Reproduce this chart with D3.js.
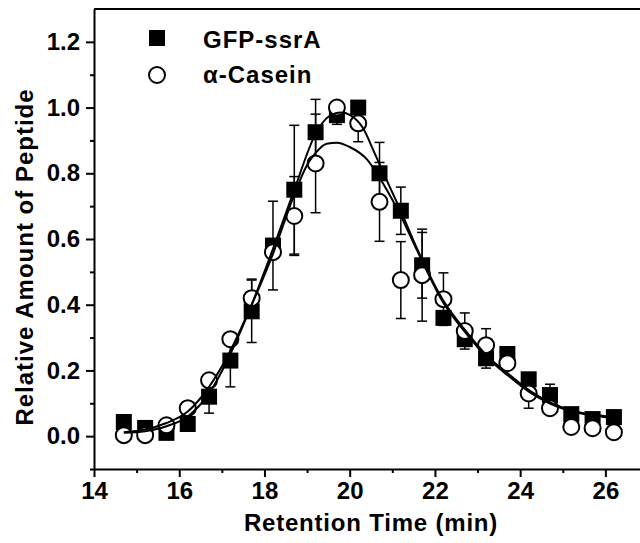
<!DOCTYPE html>
<html>
<head>
<meta charset="utf-8">
<script src="https://cdn.jsdelivr.net/npm/d3@7"></script>
<style>
  body { margin: 0; background: #fff; }
  text { font-family: "Liberation Sans", Arial, sans-serif; font-weight: bold; fill: #000; }
</style>
</head>
<body>
<div id="chart"></div>
<script>
// retention times of the fractions
var times = [14.7, 15.2, 15.7, 16.2, 16.7, 17.2, 17.7, 18.2, 18.7, 19.2, 19.7, 20.2,
             20.7, 21.2, 21.7, 22.2, 22.7, 23.2, 23.7, 24.2, 24.7, 25.2, 25.7, 26.2];

// GFP-ssrA (filled squares)
var gfpValues = [0.043, 0.025, 0.01, 0.037, 0.12, 0.23, 0.38, 0.58, 0.75, 0.925, 0.977, 1.0,
                 0.80, 0.686, 0.52, 0.36, 0.295, 0.237, 0.25, 0.173, 0.125, 0.067, 0.052, 0.058];
var gfpErrors = [0, 0, 0, 0, 0.05, 0.08, 0.095, 0.135, 0.196, 0.1, 0.028, 0,
                 0.094, 0.072, 0.1, 0, 0, 0.03, 0, 0, 0.033, 0, 0, 0];

// alpha-casein (open circles)
var caseinValues = [0.003, 0.003, 0.033, 0.085, 0.17, 0.295, 0.42, 0.56, 0.67, 0.83, 1.0, 0.952,
                    0.713, 0.475, 0.49, 0.417, 0.32, 0.277, 0.222, 0.13, 0.085, 0.028, 0.024, 0.012];
var caseinErrors = [0, 0, 0, 0, 0, 0, 0.058, 0, 0.12, 0.15, 0, 0.056,
                    0.12, 0.117, 0.14, 0.08, 0.055, 0.05, 0, 0.045, 0, 0, 0, 0];

// fitted curves
var gfpFitT = [14.7, 15.2, 15.7, 16.2, 16.7, 17.2, 17.7, 18.2, 18.7, 19.2, 19.5, 19.8, 20.0, 20.3,
               20.6, 20.9, 21.2, 21.6, 22.2, 22.75, 23.22, 23.69, 24.23, 24.7, 25.25, 25.88, 26.35];
var gfpFitV = [0.01, 0.015, 0.03, 0.06, 0.13, 0.25, 0.40, 0.57, 0.75, 0.92, 0.972, 0.985, 0.978, 0.94,
               0.857, 0.77, 0.685, 0.565, 0.412, 0.316, 0.245, 0.193, 0.138, 0.103, 0.077, 0.063, 0.057];
var caseinFitT = [14.7, 15.2, 15.7, 16.2, 16.7, 17.2, 17.7, 18.2, 18.7, 19.0, 19.2, 19.46, 19.7,
                  20.0, 20.4, 20.8, 21.2, 21.6, 22.2, 22.75, 23.22, 23.69, 24.23, 24.7, 25.25, 25.88, 26.35];
var caseinFitV = [0.012, 0.02, 0.04, 0.075, 0.15, 0.26, 0.40, 0.555, 0.735, 0.825, 0.862, 0.89, 0.893,
                  0.88, 0.843, 0.765, 0.67, 0.56, 0.405, 0.31, 0.24, 0.187, 0.133, 0.099, 0.074, 0.06, 0.054];

var xTicks = [14, 16, 18, 20, 22, 24, 26];
var xMinorTicks = [15, 17, 19, 21, 23, 25];
var yTicks = [0.0, 0.2, 0.4, 0.6, 0.8, 1.0, 1.2];
var yMinorTicks = [-0.1, 0.1, 0.3, 0.5, 0.7, 0.9, 1.1];

var width = 640, height = 543;
var plotLeft = 94, plotTop = 9, plotBottom = 469, plotRight = 648;

var svg = d3.select("#chart").append("svg")
    .attr("width", width)
    .attr("height", height);

var x = d3.scaleLinear().domain([14, 27]).range([plotLeft, plotRight]);
var y = d3.scaleLinear().domain([-0.1, 1.3]).range([plotBottom, plotTop]);

// frame top line
svg.append("line")
    .attr("x1", plotLeft).attr("x2", width)
    .attr("y1", plotTop).attr("y2", plotTop)
    .attr("stroke", "#000").attr("stroke-width", 2);

// axes
svg.append("g").attr("transform", "translate(0," + plotBottom + ")")
    .call(d3.axisBottom(x).tickValues(xTicks).tickSize(8).tickSizeOuter(0).tickPadding(5)
        .tickFormat(d3.format("d")));
svg.append("g").attr("transform", "translate(0," + plotBottom + ")")
    .call(d3.axisBottom(x).tickValues(xMinorTicks).tickSize(4).tickFormat(""))
    .select(".domain").remove();

svg.append("g").attr("transform", "translate(" + plotLeft + ",0)")
    .call(d3.axisLeft(y).tickValues(yTicks).tickSize(8).tickSizeOuter(0).tickPadding(6)
        .tickFormat(d3.format(".1f")));
svg.append("g").attr("transform", "translate(" + plotLeft + ",0)")
    .call(d3.axisLeft(y).tickValues(yMinorTicks).tickSize(4).tickFormat(""))
    .select(".domain").remove();

svg.selectAll(".domain").attr("stroke-width", 2);
svg.selectAll(".tick line").attr("stroke-width", 2);
svg.selectAll(".tick text").style("font-size", "24px").attr("fill", "#000");

// axis titles
svg.append("text")
    .attr("x", 371).attr("y", 531)
    .attr("text-anchor", "middle")
    .style("font-size", "24px")
    .style("letter-spacing", "0.8px")
    .text("Retention Time (min)");

svg.append("text")
    .attr("transform", "translate(33,257) rotate(-90)")
    .attr("text-anchor", "middle")
    .style("font-size", "24px")
    .style("letter-spacing", "1px")
    .text("Relative Amount of Peptide");

// error bars
function errorBars(values, errors) {
    var data = times.map(function (t, i) { return { t: t, v: values[i], e: errors[i] }; })
        .filter(function (d) { return d.e > 0; });
    var g = svg.append("g").attr("stroke", "#000").attr("stroke-width", 1.5);
    data.forEach(function (d) {
        var cx = x(d.t), y1 = y(d.v - d.e), y2 = y(d.v + d.e);
        g.append("line").attr("x1", cx).attr("x2", cx).attr("y1", y1).attr("y2", y2);
        g.append("line").attr("x1", cx - 5).attr("x2", cx + 5).attr("y1", y1).attr("y2", y1);
        g.append("line").attr("x1", cx - 5).attr("x2", cx + 5).attr("y1", y2).attr("y2", y2);
    });
}
errorBars(gfpValues, gfpErrors);
errorBars(caseinValues, caseinErrors);

// markers
svg.append("g").selectAll("rect")
    .data(times)
    .enter().append("rect")
    .attr("x", function (d) { return x(d) - 8; })
    .attr("y", function (d, i) { return y(gfpValues[i]) - 8; })
    .attr("width", 16).attr("height", 16)
    .attr("fill", "#000");

svg.append("g").selectAll("circle")
    .data(times)
    .enter().append("circle")
    .attr("cx", function (d) { return x(d); })
    .attr("cy", function (d, i) { return y(caseinValues[i]); })
    .attr("r", 8)
    .attr("fill", "#fff")
    .attr("stroke", "#000")
    .attr("stroke-width", 2);

// fitted curves
var line = d3.line()
    .x(function (d) { return x(d[0]); })
    .y(function (d) { return y(d[1]); })
    .curve(d3.curveMonotoneX);

svg.append("path")
    .datum(d3.zip(gfpFitT, gfpFitV))
    .attr("d", line)
    .attr("fill", "none").attr("stroke", "#000").attr("stroke-width", 2);
svg.append("path")
    .datum(d3.zip(caseinFitT, caseinFitV))
    .attr("d", line)
    .attr("fill", "none").attr("stroke", "#000").attr("stroke-width", 2);

// legend
svg.append("rect").attr("x", 149).attr("y", 30).attr("width", 16).attr("height", 16).attr("fill", "#000");
svg.append("circle").attr("cx", 157).attr("cy", 75).attr("r", 8)
    .attr("fill", "#fff").attr("stroke", "#000").attr("stroke-width", 2);
svg.append("text").attr("x", 203).attr("y", 48).style("font-size", "24px")
    .style("letter-spacing", "1px").text("GFP-ssrA");
svg.append("text").attr("x", 203).attr("y", 83).style("font-size", "24px")
    .style("letter-spacing", "1px").text("α-Casein");
</script>
</body>
</html>
